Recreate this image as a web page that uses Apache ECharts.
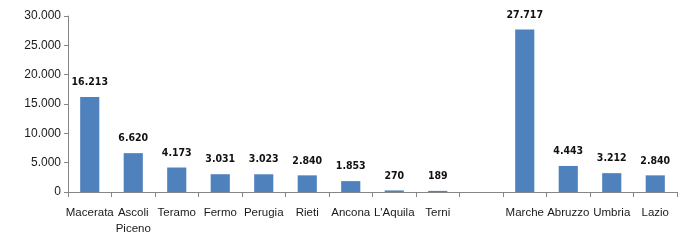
<!DOCTYPE html>
<html><head><meta charset="utf-8">
<script src="https://cdn.jsdelivr.net/npm/echarts@6/dist/echarts.min.js"></script>
<style>html,body{margin:0;padding:0;background:#fff}#c{width:700px;height:242px}</style>
</head><body><div id="c"></div>
<script>
const categories = ['Macerata','Ascoli\nPiceno','Teramo','Fermo','Perugia','Rieti','Ancona',"L'Aquila",'Terni','','Marche','Abruzzo','Umbria','Lazio'];
const values = [16213,6620,4173,3031,3023,2840,1853,270,189,null,27717,4443,3212,2840];
const yTicks = [0,5000,10000,15000,20000,25000,30000];
function fmt(v){return String(v).replace(/\B(?=(\d{3})+(?!\d))/g,'.');}
const chart = echarts.init(document.getElementById('c'));
chart.setOption({
  animation:false,
  grid:{left:68,right:23,top:16,bottom:50},
  xAxis:{type:'category',data:categories,
    axisLine:{lineStyle:{color:'#868686'}},
    axisTick:{show:true,length:5,lineStyle:{color:'#868686'},alignWithLabel:false},
    axisLabel:{interval:0,color:'#1a1a1a',fontFamily:'Liberation Sans',fontSize:11.5,margin:13,lineHeight:16}},
  yAxis:{type:'value',min:yTicks[0],max:yTicks[yTicks.length-1],interval:5000,
    splitLine:{show:false},
    axisLine:{show:true,lineStyle:{color:'#868686'}},
    axisTick:{show:true,length:4,lineStyle:{color:'#868686'}},
    axisLabel:{color:'#1a1a1a',fontFamily:'Liberation Sans',fontSize:12,margin:7,formatter:v=>fmt(v)}},
  series:[{type:'bar',data:values,barWidth:'44%',
    itemStyle:{color:'#4F81BD'},
    label:{show:true,position:'top',distance:9,color:'#111',fontWeight:'bold',fontFamily:'"DejaVu Sans Condensed", "Liberation Sans"',fontSize:10.5,formatter:p=>p.value==null?'':fmt(p.value)}}]
});
</script></body></html>
